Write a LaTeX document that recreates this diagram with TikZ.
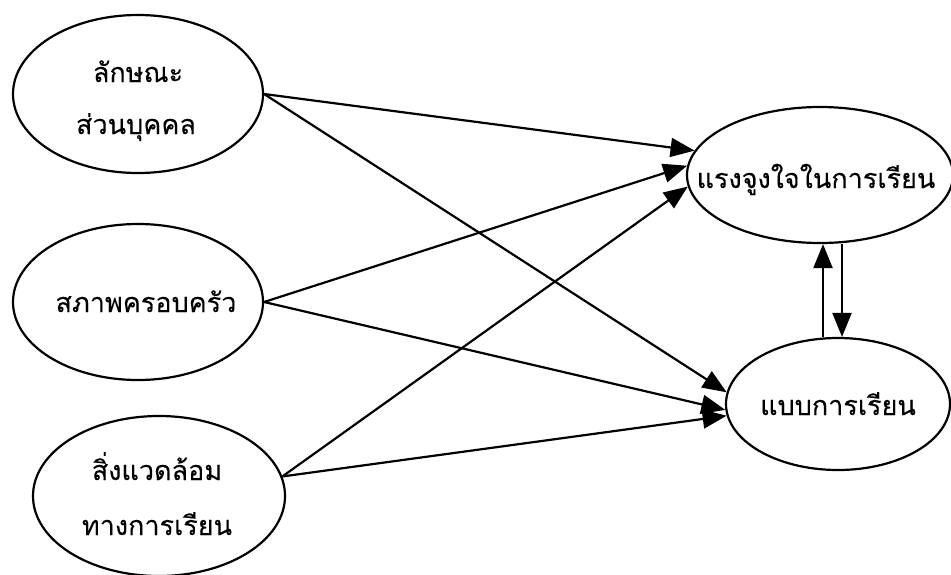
\documentclass[tikz,border=0pt]{standalone}
\usepackage{fontspec}
\newfontfamily\thaifont[Script=Thai,FakeBold=0.15]{Loma}
\usetikzlibrary{shapes.geometric,arrows.meta,calc}
\begin{document}
\begin{tikzpicture}[x=1pt,y=-1pt,
  oval/.style={draw,ellipse,line width=2.2pt,inner sep=0pt},
  txt/.style={anchor=base,inner sep=0pt,font=\thaifont\fontsize{27}{32}\selectfont},
  link/.style={line width=2.2pt,-{Triangle[length=24pt,width=19pt]}}]
\clip (0,0) rectangle (951,574);
\fill[white] (0,0) rectangle (951,574);
\node[oval,minimum width=250pt,minimum height=158pt] (e1) at (138,94) {};
\node[oval,minimum width=250pt,minimum height=156pt] (e2) at (138,302) {};
\node[oval,minimum width=252pt,minimum height=160pt] (e3) at (159,496) {};
\node[oval,minimum width=266pt,minimum height=136pt] (e4) at (820,175) {};
\node[oval,minimum width=224pt,minimum height=132pt] (e5) at (838,404) {};
\node[txt] (t1a) at (138,82) {ลักษณะ};
\node[txt] (t1b) at (136,134) {ส่วนบุคคล};
\node[txt] (t2) at (146,312) {สภาพครอบครัว};
\node[txt] (t3a) at (157,480) {สิ่งแวดล้อม};
\node[txt] (t3b) at (157,535) {ทางการเรียน};
\node[txt] (t4) at (816,188) {แรงจูงใจในการเรียน};
\node[txt] (t5) at (838,415) {แบบการเรียน};
\draw[link] (e1.east) -- (e4.169);
\draw[link] (e1.east) -- (e5.174);
\draw[link] (e2.east) -- (e4.176);
\draw[link] (e2.east) -- (e5.183);
\draw[link] (e3.9) -- (e4.185);
\draw[link] (e3.9) -- (e5.186);
\draw[link] ([xshift=-15pt]e5.north) -- ([xshift=-15pt]e5.north |- e4.south);
\draw[link] ([xshift=4pt]e5.north |- e4.south) -- ([xshift=4pt]e5.north);
\end{tikzpicture}
\end{document}
